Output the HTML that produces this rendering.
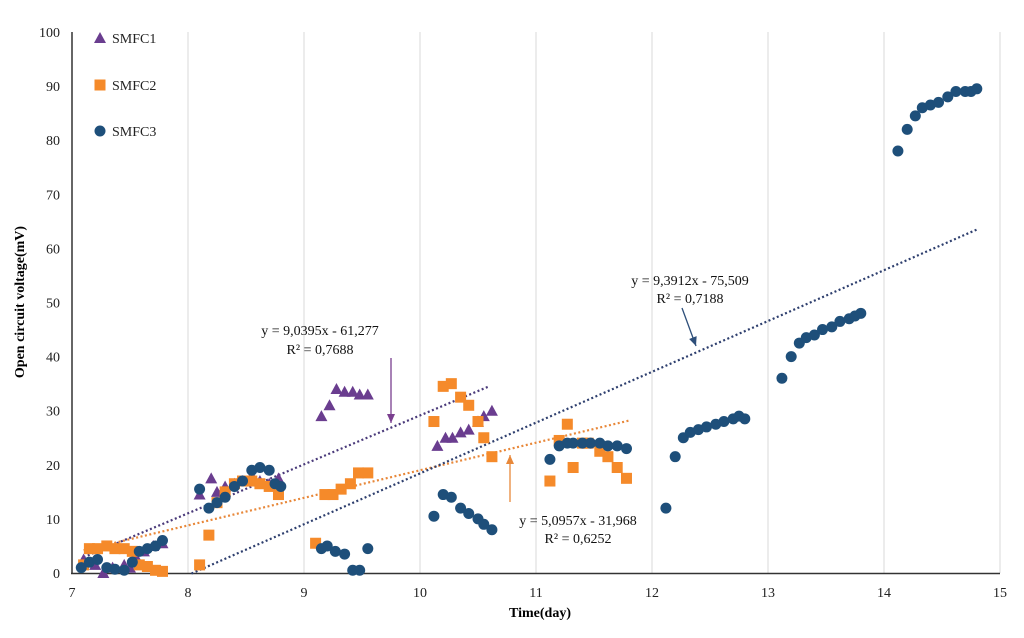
<!DOCTYPE html>
<html><head><meta charset="utf-8"><style>
body{margin:0;background:#fff;}
svg{display:block;font-family:"Liberation Serif",serif;}
</style></head><body>
<svg id="chart" width="1024" height="638" viewBox="0 0 1024 638" xmlns="http://www.w3.org/2000/svg">
<g id="grid"></g><g id="axes"></g><g id="trends"></g><g id="marks"></g><g id="ann"></g>
</svg>
<script>
const xTicks=[7,8,9,10,11,12,13,14,15];
const yTicks=[0,10,20,30,40,50,60,70,80,90,100];
const s1x=[7.1,7.2,7.27,7.35,7.45,7.5,7.55,7.62,7.7,7.78,8.1,8.2,8.25,8.32,8.4,8.47,8.55,8.62,8.7,8.78,9.15,9.22,9.28,9.35,9.42,9.48,9.55,10.15,10.22,10.28,10.35,10.42,10.5,10.55,10.62];
const s1y=[2.5,1.5,0,1,1.5,1,3,4,5,5.5,14.5,17.5,15,16,16.5,17,18,17,16.5,17.5,29,31,34,33.5,33.5,33,33,23.5,25,25,26,26.5,28,29,30];
const s2x=[7.1,7.15,7.22,7.3,7.37,7.45,7.52,7.58,7.65,7.72,7.78,8.1,8.18,8.25,8.32,8.4,8.47,8.55,8.62,8.7,8.78,9.1,9.18,9.25,9.32,9.4,9.47,9.55,10.12,10.2,10.27,10.35,10.42,10.5,10.55,10.62,11.12,11.2,11.27,11.32,11.4,11.45,11.55,11.62,11.7,11.78];
const s2y=[1.5,4.5,4.5,5,4.5,4.5,4,1.5,1.2,0.5,0.3,1.5,7,13,15,16.5,17,17,16.5,16,14.5,5.5,14.5,14.5,15.5,16.5,18.5,18.5,28,34.5,35,32.5,31,28,25,21.5,17,24.5,27.5,19.5,24,24,22.5,21.5,19.5,17.5];
const s3x=[7.08,7.15,7.22,7.3,7.37,7.45,7.52,7.58,7.65,7.72,7.78,8.1,8.18,8.25,8.32,8.4,8.47,8.55,8.62,8.7,8.75,8.8,9.15,9.2,9.27,9.35,9.42,9.48,9.55,10.12,10.2,10.27,10.35,10.42,10.5,10.55,10.62,11.12,11.2,11.27,11.32,11.4,11.47,11.55,11.62,11.7,11.78,12.12,12.2,12.27,12.33,12.4,12.47,12.55,12.62,12.7,12.75,12.8,13.12,13.2,13.27,13.33,13.4,13.47,13.55,13.62,13.7,13.75,13.8,14.12,14.2,14.27,14.33,14.4,14.47,14.55,14.62,14.7,14.75,14.8];
const s3y=[1,2,2.5,1,0.7,0.5,2,4,4.5,5,6,15.5,12,13,14,16,17,19,19.5,19,16.5,16,4.5,5,4,3.5,0.5,0.5,4.5,10.5,14.5,14,12,11,10,9,8,21,23.5,24,24,24,24,24,23.5,23.5,23,12,21.5,25,26,26.5,27,27.5,28,28.5,29,28.5,36,40,42.5,43.5,44,45,45.5,46.5,47,47.5,48,78,82,84.5,86,86.5,87,88,89,89,89,89.5];
const trendSlope=[9.0395,5.0957,9.3912];
const trendIntercept=[-61.277,-31.968,-75.509];
const trendStart=[7.1,7.1,8.03];
const trendEnd=[10.6,11.8,14.8];
const trendColor=['#4a3a7a','#e8883a','#2e3f6e'];
const X=v=>72+(v-7)*116, Y=v=>573-v*5.41;
const NS='http://www.w3.org/2000/svg';
function mk(p,t,a){const e=document.createElementNS(NS,t);for(const k in a)e.setAttribute(k,a[k]);p.appendChild(e);return e;}
const grid=document.getElementById('grid'),axes=document.getElementById('axes'),trends=document.getElementById('trends'),marks=document.getElementById('marks'),ann=document.getElementById('ann');
xTicks.forEach(t=>{
 if(t>7){const l=mk(grid,'line',{x1:X(t),x2:X(t),y1:Y(100),y2:Y(0),stroke:'#d9d9d9','stroke-width':1});
 
 }
 const tx=mk(axes,'text',{x:X(t),y:597,'text-anchor':'middle','font-size':14,fill:'#222'});tx.textContent=t;
 
 
});
yTicks.forEach(t=>{
 const tx=mk(axes,'text',{x:60,y:Y(t)+5,'text-anchor':'end','font-size':14,fill:'#222'});tx.textContent=t;
 
 
});
let a=mk(axes,'line',{x1:72,x2:72,y1:Y(100),y2:574,stroke:'#333','stroke-width':1.5});


a=mk(axes,'line',{x1:71,x2:1000,y1:573.5,y2:573.5,stroke:'#333','stroke-width':1.5});


let t=mk(axes,'text',{x:540,y:617,'text-anchor':'middle','font-size':14,'font-weight':'bold'});t.textContent='Time(day)';


t=mk(axes,'text',{x:0,y:0,'text-anchor':'middle','font-size':14,'font-weight':'bold',transform:'translate(24,302) rotate(-90)'});t.textContent='Open circuit voltage(mV)';


for(let i=0;i<3;i++){
 const x0=trendStart[i],x1=trendEnd[i];
 const l=mk(trends,'line',{x1:X(x0),y1:Y(trendSlope[i]*x0+trendIntercept[i]),x2:X(x1),y2:Y(trendSlope[i]*x1+trendIntercept[i]),stroke:trendColor[i],'stroke-width':2.2,'stroke-dasharray':'2 2.5'});
 
 
}
function tri(g,cx,cy){return mk(g,'polygon',{points:`${cx},${cy-6} ${cx-6},${cy+5} ${cx+6},${cy+5}`,fill:'#6a3d8f'});}
function sq(g,cx,cy){return mk(g,'rect',{x:cx-5.5,y:cy-5.5,width:11,height:11,fill:'#f58a2a'});}
function circ(g,cx,cy){return mk(g,'circle',{cx:cx,cy:cy,r:5.5,fill:'#1e4f7a'});}
s1x.forEach((v,i)=>{const e=tri(marks,X(v),Y(s1y[i]));
 
 });
s2x.forEach((v,i)=>{const e=sq(marks,X(v),Y(s2y[i]));
 
 });
s3x.forEach((v,i)=>{const e=circ(marks,X(v),Y(s3y[i]));
 
 });
// legend
const lg=[['SMFC1',tri,38],['SMFC2',sq,85],['SMFC3',circ,131]];
lg.forEach(d=>{const m=d[1](ann,100,d[2]);
 
 
 const tx=mk(ann,'text',{x:112,y:d[2]+5,'font-size':14,fill:'#222'});tx.textContent=d[0];
 
 });
// annotations
function label(x,y,s,name){const e=mk(ann,'text',{x:x,y:y,'text-anchor':'middle','font-size':14,fill:'#111'});e.textContent=s;
 
 }
label(320,335,'y = 9,0395x - 61,277','eq-smfc1');label(320,354,'R² = 0,7688','r2-smfc1');
label(690,285,'y = 9,3912x - 75,509','eq-smfc3');label(690,303,'R² = 0,7188','r2-smfc3');
label(578,525,'y = 5,0957x - 31,968','eq-smfc2');label(578,543,'R² = 0,6252','r2-smfc2');
function arrow(x1,y1,x2,y2,c,name){const g=mk(ann,'g',{});
 
 
 mk(g,'line',{x1:x1,y1:y1,x2:x2,y2:y2,stroke:c,'stroke-width':1.3});
 const ang=Math.atan2(y2-y1,x2-x1),L=9,w=4;
 const bx=x2-L*Math.cos(ang),by=y2-L*Math.sin(ang);
 mk(g,'polygon',{points:`${x2},${y2} ${bx+w*Math.sin(ang)},${by-w*Math.cos(ang)} ${bx-w*Math.sin(ang)},${by+w*Math.cos(ang)}`,fill:c});}
arrow(391,358,391,423,'#7a3f8f','arrow-smfc1');
arrow(682,308,696,346,'#2e4f7a','arrow-smfc3');
arrow(510,502,510,455,'#e8883a','arrow-smfc2');
</script>
</body></html>
